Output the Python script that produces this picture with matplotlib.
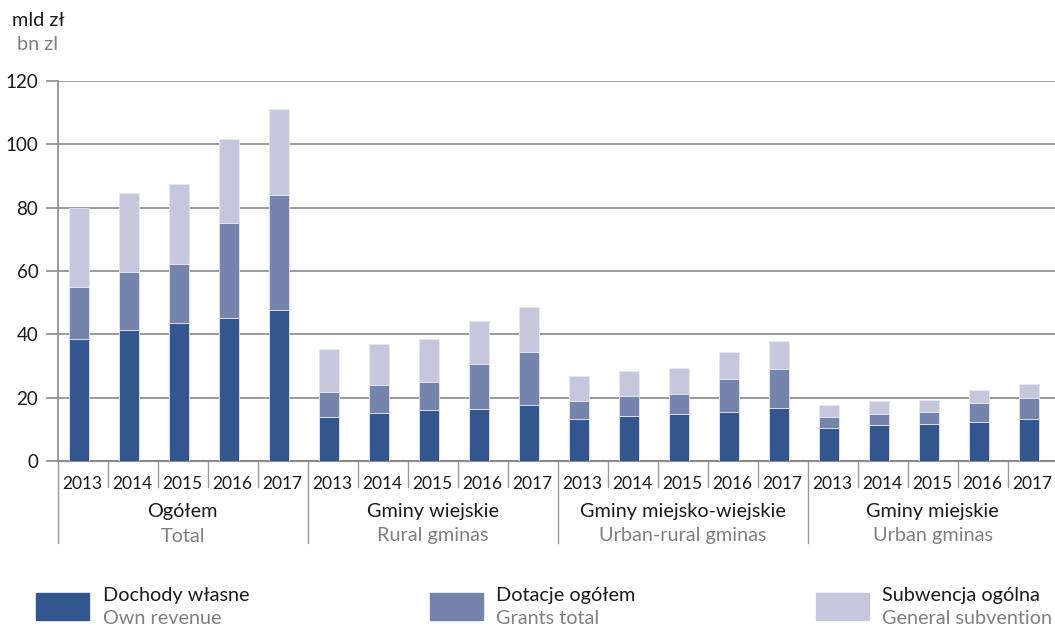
import matplotlib
matplotlib.use("Agg")
import matplotlib.pyplot as plt
import matplotlib.transforms as mtransforms
from matplotlib.patches import Rectangle

plt.rcParams['font.family'] = ['Lato', 'DejaVu Sans']

years = ['2013', '2014', '2015', '2016', '2017']
groups_pl = ['Ogółem', 'Gminy wiejskie', 'Gminy miejsko-wiejskie', 'Gminy miejskie']
groups_en = ['Total', 'Rural gminas', 'Urban-rural gminas', 'Urban gminas']

own_revenue = [38.4, 41.5, 43.5, 45.1, 47.8,
               14.0, 15.3, 16.2, 16.5, 17.7,
               13.4, 14.3, 14.9, 15.6, 16.8,
               10.5, 11.5, 11.8, 12.4, 13.2]
grants_total = [16.6, 18.3, 18.6, 30.2, 36.3,
                7.8, 8.6, 8.8, 14.1, 16.7,
                5.4, 6.1, 6.4, 10.3, 12.3,
                3.5, 3.4, 3.7, 6.0, 6.8]
general_subvention = [24.9, 24.7, 25.5, 26.4, 27.1,
                      13.5, 13.0, 13.4, 13.6, 14.1,
                      7.9, 7.9, 8.2, 8.6, 8.8,
                      3.7, 4.0, 3.9, 4.1, 4.4]

legend_pl = ['Dochody własne', 'Dotacje ogółem', 'Subwencja ogólna']
legend_en = ['Own revenue', 'Grants total', 'General subvention']
colors = ['#34568f', '#7584ad', '#c5c8dd']

W, H = 1055, 628
fig = plt.figure(figsize=(W / 100, H / 100), dpi=100)
ax = fig.add_axes([57.7 / W, (H - 461) / H, 1000 / W, 380 / H])

n = len(own_revenue)
xs = [i - 0.07 for i in range(n)]
bottom2 = [a + b for a, b in zip(own_revenue, grants_total)]
ax.bar(xs, own_revenue, width=0.4, color=colors[0], edgecolor='#e6e8f0', linewidth=0.6, zorder=3)
ax.bar(xs, grants_total, width=0.4, bottom=own_revenue, color=colors[1], edgecolor='#e6e8f0', linewidth=0.6, zorder=3)
ax.bar(xs, general_subvention, width=0.4, bottom=bottom2, color=colors[2], edgecolor='#e6e8f0', linewidth=0.6, zorder=3)

ax.set_xlim(-0.5, n - 0.5)
ax.set_ylim(0, 120)
ax.set_yticks(range(0, 121, 20))
ax.tick_params(axis='y', length=9, width=1.2, color='#8a8a8a', labelsize=13.5, labelcolor='#1a1a1a', pad=5)
ax.yaxis.grid(True, color='#8a8a8a', linewidth=1.2, zorder=0)
ax.set_axisbelow(True)
for s in ['top', 'right']:
    ax.spines[s].set_visible(False)
ax.spines['left'].set_color('#8a8a8a')
ax.spines['left'].set_linewidth(1.2)
ax.spines['bottom'].set_color('#8a8a8a')
ax.spines['bottom'].set_linewidth(1.5)

ax.set_xticks(range(n))
ax.set_xticklabels(years * 4)
ax.tick_params(axis='x', length=0, labelsize=12.5, labelcolor='#1a1a1a', pad=11)

trans = mtransforms.blended_transform_factory(ax.transData, ax.transAxes)
for k in range(n + 1):
    x = k - 0.5
    if k % 5 == 0:
        y0 = -82 / 380
    else:
        y0 = -26 / 380
    ax.plot([x, x], [0, y0], transform=trans, color='#9a9a9a', lw=1.0, clip_on=False)

for g in range(4):
    cx = g * 5 + 2
    ax.text(cx, -50 / 380, groups_pl[g], transform=trans, ha='center', va='center',
            fontsize=14.3, color='#1a1a1a')
    ax.text(cx, -75 / 380, groups_en[g], transform=trans, ha='center', va='center',
            fontsize=14.3, color='#808080')

fig.text(12 / W, 1 - 20 / H, 'mld zł', ha='left', va='center', fontsize=14.3, color='#1a1a1a')
fig.text(17 / W, 1 - 45 / H, 'bn zl', ha='left', va='center', fontsize=14.3, color='#808080')

sq_x = [36, 430, 816]
tx_x = [103, 496, 882]
for i in range(3):
    fig.patches.append(Rectangle((sq_x[i] / W, 1 - 620 / H), 53 / W, 27 / H,
                                 transform=fig.transFigure, color=colors[i]))
    fig.text(tx_x[i] / W, 1 - 596 / H, legend_pl[i], ha='left', va='center', fontsize=14.3, color='#1a1a1a')
    fig.text(tx_x[i] / W, 1 - 619 / H, legend_en[i], ha='left', va='center', fontsize=14.3, color='#808080')

fig.savefig('out.png', dpi=100)
